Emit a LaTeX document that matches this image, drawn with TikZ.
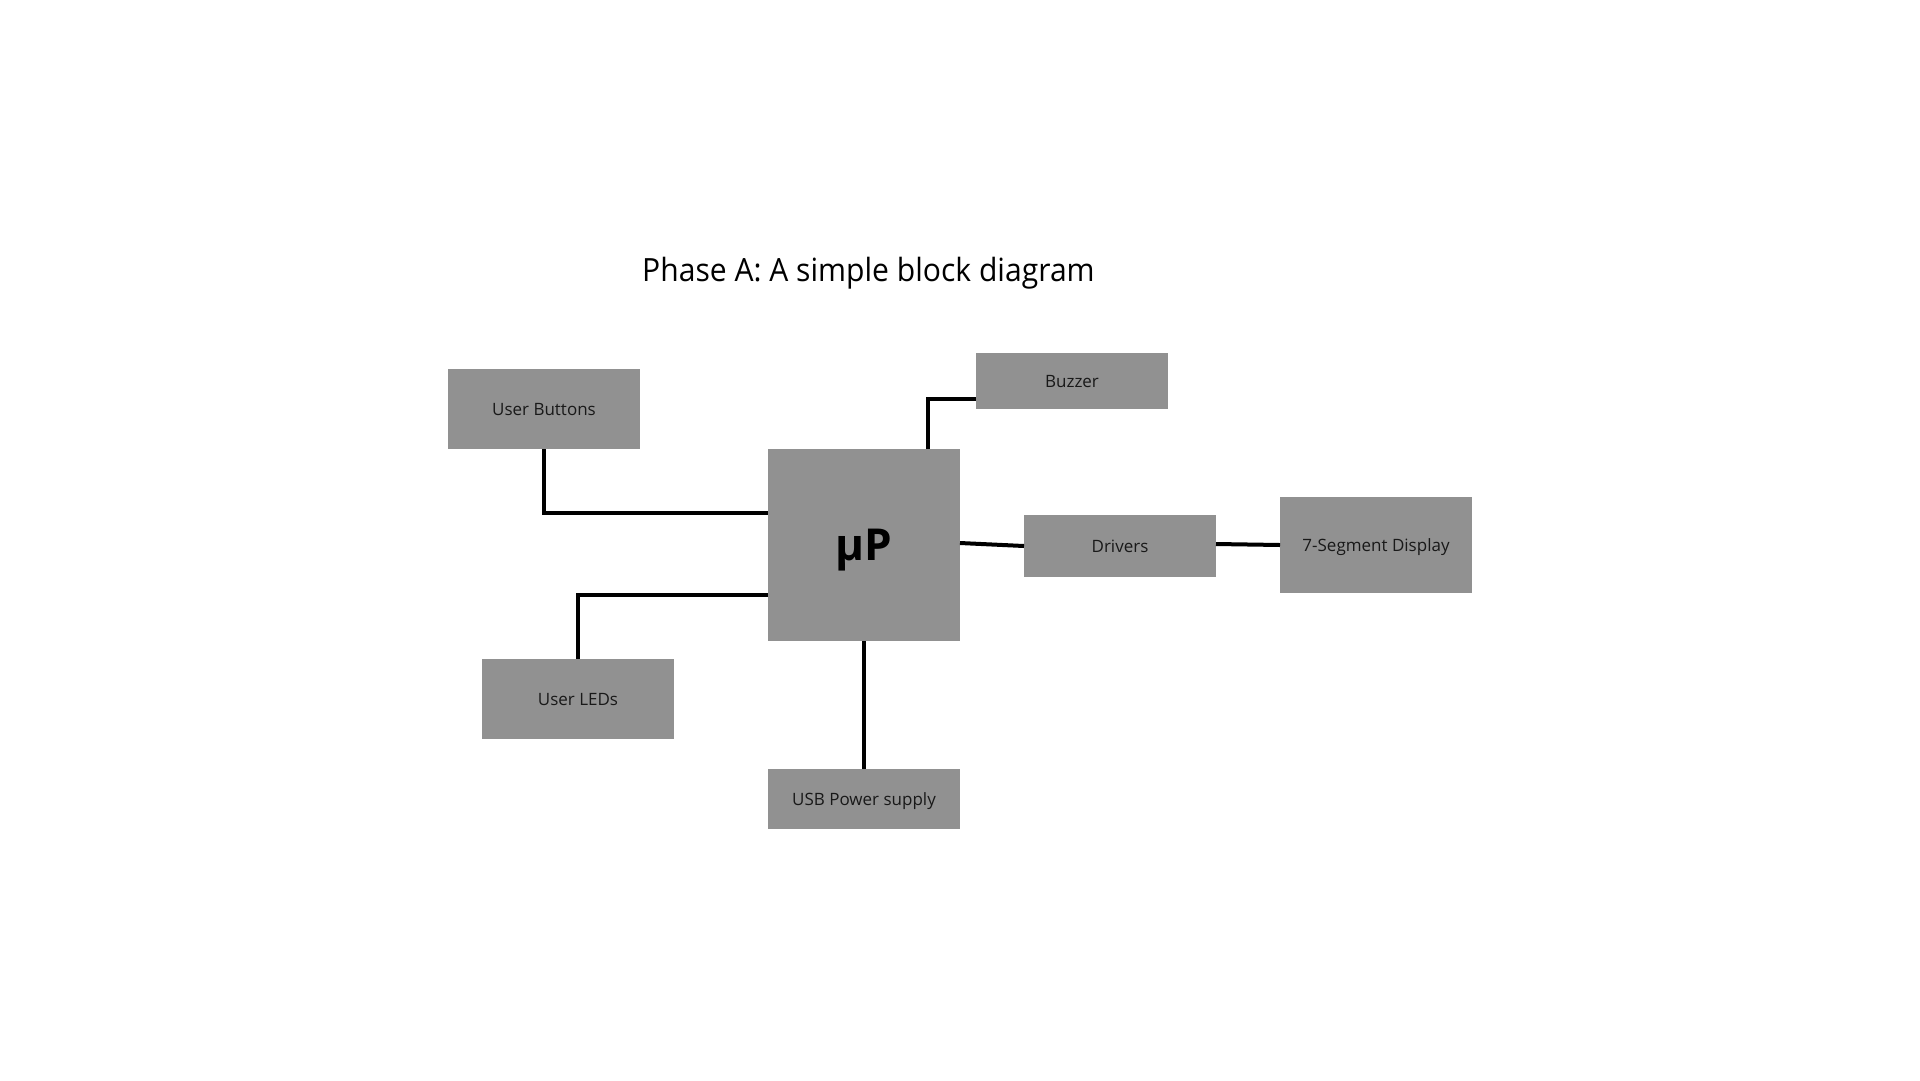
\documentclass[tikz,border=0pt]{standalone}
\usepackage{fontspec}
\setmainfont{Open Sans}
\newfontfamily\titlefont{Open Sans}[FakeStretch=0.94]
\usetikzlibrary{calc}
\definecolor{boxgray}{RGB}{145,145,145}
\tikzset{
  blk/.style={draw=none, fill=boxgray, minimum width=192pt, inner sep=0pt, outer sep=0pt,
     font=\fontsize{17pt}{20pt}\selectfont, text=black!90, text height=12.3pt, text depth=0pt},
  wire/.style={line width=4pt, draw=black, line join=miter},
}
\begin{document}
\begin{tikzpicture}[x=1pt,y=-1pt]
\useasboundingbox (0,0) rectangle (1920,1080);
\fill[white] (0,0) rectangle (1920,1080);
\node[anchor=base west, inner sep=0pt, font=\titlefont\fontsize{32pt}{38pt}\selectfont] (title) at (642,281) {Phase A: A simple block diagram};

\node[blk, minimum height=80pt] (ub) at (544,409) {User Buttons};
\node[blk, minimum height=56pt] (bz) at (1072,381) {Buzzer};
\node[blk, minimum height=192pt, font=\fontsize{44pt}{50pt}\selectfont\bfseries, text=black, text height=31.7pt] (mu) at (864,545) {µP};
\node[blk, minimum height=62pt] (dr) at (1120,546) {Drivers};
\node[blk, minimum height=96pt] (sd) at (1376,545) {7-Segment Display};
\node[blk, minimum height=80pt] (led) at (578,699) {User LEDs};
\node[blk, minimum height=60pt] (usb) at (864,799) {USB Power supply};

\draw[wire] (ub.south) |- ([yshift=32pt]mu.west);
\draw[wire] ([xshift=64pt]mu.north) |- ([yshift=-18pt]bz.west);
\draw[wire] ([yshift=2pt]mu.east) -- (dr.west);
\draw[wire] ([yshift=2pt]dr.east) -- (sd.west);
\draw[wire] ([yshift=-50pt]mu.west) -| (led.north);
\draw[wire] (mu.south) -- (usb.north);
\end{tikzpicture}
\end{document}
